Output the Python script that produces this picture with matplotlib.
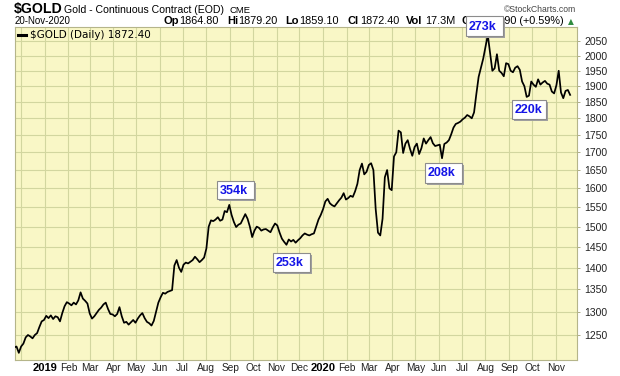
import matplotlib
matplotlib.use("Agg")
import matplotlib.pyplot as plt
import matplotlib.dates as mdates
from matplotlib.patches import Rectangle
from matplotlib.lines import Line2D
from matplotlib.ticker import FixedLocator, FixedFormatter, NullLocator
import pandas as pd

# ---------------- data ----------------
end_date = "2020-11-20"
step = "3D"
prices = [
    1224, 1226, 1213, 1226, 1232, 1245, 1250, 1247, 1243, 1250,
    1254, 1267, 1279, 1282, 1291, 1286, 1292, 1284, 1290, 1288,
    1279, 1297, 1312, 1321, 1318, 1314, 1320, 1316, 1325, 1343,
    1329, 1324, 1318, 1296, 1285, 1290, 1297, 1304, 1309, 1316,
    1320, 1306, 1295, 1294, 1290, 1295, 1310, 1290, 1276, 1278,
    1272, 1277, 1282, 1276, 1285, 1292, 1297, 1286, 1278, 1275,
    1270, 1280, 1300, 1320, 1332, 1342, 1340, 1344, 1346, 1348,
    1405, 1418, 1400, 1390, 1407, 1412, 1410, 1414, 1418, 1426,
    1420, 1413, 1418, 1424, 1446, 1500, 1516, 1514, 1518, 1524,
    1515, 1518, 1540, 1537, 1556, 1530, 1512, 1499, 1505, 1508,
    1520, 1532, 1520, 1500, 1474, 1490, 1500, 1497, 1490, 1493,
    1494, 1490, 1486, 1498, 1508, 1503, 1485, 1470, 1462, 1455,
    1468, 1463, 1467, 1460, 1466, 1471, 1478, 1483, 1480, 1478,
    1481, 1483, 1500, 1518, 1530, 1545, 1565, 1572, 1560, 1555,
    1552, 1560, 1568, 1575, 1587, 1570, 1574, 1580, 1577, 1592,
    1612, 1650, 1668, 1638, 1645, 1664, 1669, 1650, 1545, 1485,
    1478, 1520, 1630, 1650, 1600, 1595, 1688, 1700, 1763, 1758,
    1698, 1725, 1735, 1710, 1690, 1715, 1725, 1695, 1712, 1740,
    1725, 1735, 1744, 1726, 1718, 1720, 1722, 1683, 1724, 1728,
    1735, 1752, 1772, 1783, 1786, 1790, 1797, 1802, 1810, 1806,
    1800, 1818, 1875, 1930, 1960, 1990, 2030, 2071, 2010, 1950,
    1958, 2005, 1950, 1943, 1932, 1975, 1972, 1950, 1945, 1960,
    1965, 1953, 1915, 1900, 1866, 1870, 1915, 1905, 1898, 1922,
    1905, 1912, 1917, 1908, 1905, 1883, 1877, 1903, 1950, 1880,
    1862, 1885, 1888, 1872.4,
]
dates = pd.date_range(end=end_date, periods=len(prices), freq=step)

y_ticks = [1250, 1300, 1350, 1400, 1450, 1500, 1550, 1600, 1650, 1700,
           1750, 1800, 1850, 1900, 1950, 2000, 2050]
month_ticks = pd.date_range("2019-01-01", "2020-11-01", freq="MS")
month_labels = ["2019", "Feb", "Mar", "Apr", "May", "Jun", "Jul", "Aug", "Sep",
                "Oct", "Nov", "Dec", "2020", "Feb", "Mar", "Apr", "May", "Jun",
                "Jul", "Aug", "Sep", "Oct", "Nov"]
grid_months = pd.date_range("2018-12-01", "2020-11-01", freq="MS")

volume_labels = ["354k", "253k", "208k", "220k", "273k"]
volume_boxes = [(217, 181, 254, 199), (273, 253, 310, 272), (425, 163, 462, 183),
                (512, 100, 546, 119), (466, 16, 503, 36)]

header = {"Op": "1864.80", "Hi": "1879.20", "Lo": "1859.10",
          "Cl": "1872.40", "Vol": "17.3M", "Chg": "+10.90 (+0.59%)"}
header_x = {"Op": 164, "Hi": 227, "Lo": 285, "Cl": 348, "Vol": 406, "Chg": 462}
header_lab_w = {"Op": 15, "Hi": 11, "Lo": 14, "Cl": 12, "Vol": 19, "Chg": 21}

# ---------------- figure ----------------
W, H = 620, 376
fig = plt.figure(figsize=(W / 100, H / 100), dpi=100)
fig.patch.set_facecolor("white")

def fx(x):
    return x / W

def fy(y):
    return 1 - y / H

L, R, T, B = 15, 577, 27, 360
ax = fig.add_axes([fx(L), fy(B), (R - L) / W, (B - T) / H])
ax.set_facecolor("#f9f7c6")

ax.plot(dates, prices, color="black", lw=1.25, zorder=3, solid_joinstyle="round")

ax.set_yscale("log")
ax.set_ylim(1198.5, 2099)
ax.set_xlim(pd.Timestamp("2018-11-23"), pd.Timestamp("2020-11-29"))

ax.yaxis.set_major_locator(FixedLocator(y_ticks))
ax.yaxis.set_major_formatter(FixedFormatter([str(v) for v in y_ticks]))
ax.yaxis.set_minor_locator(NullLocator())
ax.yaxis.tick_right()
ax.tick_params(axis="y", which="major", length=2, width=0.6, color="#a0a070",
               pad=3, labelsize=7.5, labelcolor="#222222")
for lab in ax.get_yticklabels():
    lab.set_family("Liberation Sans")

ax.xaxis.set_major_locator(FixedLocator(mdates.date2num(month_ticks)))
ax.xaxis.set_major_formatter(FixedFormatter(month_labels))
ax.xaxis.set_minor_locator(NullLocator())
ax.tick_params(axis="x", which="major", length=0, pad=2, labelsize=7.3,
               labelcolor="#222222")
for lab, txt in zip(ax.get_xticklabels(), month_labels):
    lab.set_family("Liberation Sans")
    if txt.isdigit():
        lab.set_fontweight("bold")
        lab.set_fontsize(8)
        lab.set_color("black")

# grid
for d in grid_months:
    ax.axvline(d, color="#d2d69f", lw=0.8, zorder=1)
for v in y_ticks:
    ax.axhline(v, color="#d2d69f", lw=0.8, zorder=1)

for s in ax.spines.values():
    s.set_color("#b5b58a")
    s.set_linewidth(0.8)

# legend inside plot
fig.add_artist(Line2D([fx(18), fx(26)], [fy(35), fy(35)], color="black", lw=2.2,
                      transform=fig.transFigure))
fig.text(fx(30), fy(35), "$GOLD (Daily) 1872.40", fontsize=7.5, family="DejaVu Sans",
         va="center", ha="left", color="black")

# header row 1
fig.text(fx(14), fy(9.5), "$GOLD", fontsize=10.2, fontweight="bold",
         family="Liberation Sans", va="center", ha="left")
fig.text(fx(64), fy(10), "Gold - Continuous Contract (EOD)", fontsize=7.6,
         family="Liberation Sans", va="center", ha="left")
fig.text(fx(230), fy(10.5), "CME", fontsize=6.8, family="Liberation Sans",
         va="center", ha="left")
fig.text(fx(576), fy(9), "\u00a9StockCharts.com", fontsize=6.2,
         family="Liberation Sans", va="center", ha="right", color="#444444")

# header row 2
fig.text(fx(15), fy(21.5), "20-Nov-2020", fontsize=7, family="Liberation Sans",
         va="center", ha="left")
for key, val in header.items():
    x0 = header_x[key]
    fig.text(fx(x0), fy(21.5), key, fontsize=8, fontweight="bold",
             family="Liberation Sans", va="center", ha="left")
    fig.text(fx(x0 + header_lab_w[key]), fy(21.5), val, fontsize=7.8,
             family="Liberation Sans", va="center", ha="left")
fig.text(fx(571), fy(21.5), "\u25b2", fontsize=5.5, family="DejaVu Sans",
         va="center", ha="center", color="#2e8b3e")

# volume annotation boxes
for lab, (x0, y0, x1, y1) in zip(volume_labels, volume_boxes):
    fig.add_artist(Rectangle((fx(x0 + 2), fy(y1 + 2)), (x1 - x0) / W, (y1 - y0) / H,
                             transform=fig.transFigure, facecolor="#a0a0a0",
                             edgecolor="none", zorder=10))
    fig.add_artist(Rectangle((fx(x0), fy(y1)), (x1 - x0) / W, (y1 - y0) / H,
                             transform=fig.transFigure, facecolor="white",
                             edgecolor="#8c8c8c", lw=0.8, zorder=11))
    fig.text(fx(x0 + 3), fy((y0 + y1) / 2 + 0.5), lab, fontsize=9, fontweight="bold",
             family="Liberation Sans", color="#1414e6", va="center", ha="left",
             zorder=12)

fig.savefig("out.png", dpi=100, facecolor="white")
